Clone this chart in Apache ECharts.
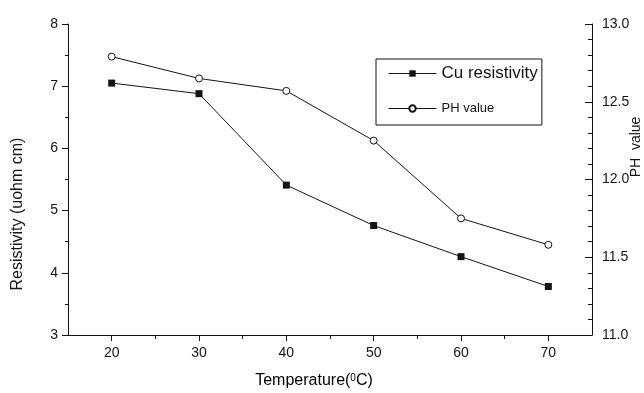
<!DOCTYPE html>
<html>
<head>
<meta charset="utf-8">
<script src="https://cdn.jsdelivr.net/npm/echarts@6/dist/echarts.min.js"></script>
<style>
  html, body { margin: 0; padding: 0; background: #fff; }
  #main { width: 644px; height: 393px; }
</style>
</head>
<body>
<div id="main"></div>
<script>
// temperature (°C)
var temps = [20, 30, 40, 50, 60, 70];
// Cu resistivity (uohm cm), left axis
var cuResistivity = [7.05, 6.88, 5.41, 4.76, 4.26, 3.78];
// PH value, right axis
var phValue = [12.79, 12.65, 12.57, 12.25, 11.75, 11.58];

var xMajor = [20, 30, 40, 50, 60, 70];
var xMinor = [25, 35, 45, 55, 65];

var ink = '#141414';
var font = 'Liberation Sans, Arial, sans-serif';

var chartDom = document.getElementById('main');
var myChart = echarts.init(chartDom);

var option = {
  backgroundColor: '#fff',
  animation: false,
  textStyle: { fontFamily: font, color: ink },
  grid: { left: 68, right: 52, top: 24, bottom: 58 },
  legend: {
    orient: 'vertical',
    left: 376,
    top: 59,
    width: 167,
    padding: [6, 4, 10, 12],
    itemGap: 20,
    itemWidth: 48,
    itemHeight: 8,
    borderColor: ink,
    borderWidth: 1,
    lineStyle: { width: 1 },
    textStyle: { color: ink, fontFamily: font },
    data: [
      { name: 'Cu resistivity', textStyle: { fontSize: 17 } },
      { name: 'PH value', textStyle: { fontSize: 13 } }
    ]
  },
  xAxis: [
    {
      type: 'value',
      min: 15,
      max: 75,
      interval: 5,
      splitLine: { show: false },
      axisLine: { lineStyle: { color: ink, width: 1 } },
      axisTick: { customValues: xMajor, length: 6, lineStyle: { color: ink } },
      axisLabel: { customValues: xMajor, color: ink, fontSize: 14, margin: 11 }
    },
    {
      type: 'value',
      min: 15,
      max: 75,
      interval: 5,
      position: 'bottom',
      splitLine: { show: false },
      axisLine: { show: false },
      axisTick: { customValues: xMinor, length: 4, lineStyle: { color: ink } },
      axisLabel: { show: false }
    }
  ],
  yAxis: [
    {
      type: 'value',
      min: 3,
      max: 8,
      interval: 1,
      position: 'left',
      splitLine: { show: false },
      axisLine: { show: true, lineStyle: { color: ink, width: 1 } },
      axisTick: { show: true, length: 6, lineStyle: { color: ink } },
      minorTick: { show: true, splitNumber: 2, length: 3, lineStyle: { color: ink } },
      axisLabel: { color: ink, fontSize: 14, margin: 10 }
    },
    {
      type: 'value',
      min: 11,
      max: 13,
      interval: 0.5,
      position: 'right',
      splitLine: { show: false },
      axisLine: { show: true, lineStyle: { color: ink, width: 1 } },
      axisTick: { show: true, inside: true, length: 7, lineStyle: { color: ink } },
      minorTick: { show: true, splitNumber: 5, length: 4, lineStyle: { color: ink } },
      axisLabel: {
        color: ink, fontSize: 14, margin: 10,
        formatter: function (v) { return v.toFixed(1); }
      }
    }
  ],
  graphic: [
    {
      type: 'text',
      x: 18, y: 214,
      rotation: Math.PI / 2,
      style: {
        text: 'Resistivity (uohm cm)',
        fontFamily: font, fontSize: 16, fill: ink,
        align: 'center', verticalAlign: 'middle'
      }
    },
    {
      type: 'text',
      x: 636, y: 147,
      rotation: Math.PI / 2,
      style: {
        text: 'PH  value',
        fontFamily: font, fontSize: 14, fill: ink,
        align: 'center', verticalAlign: 'middle'
      }
    },
    {
      type: 'text',
      x: 314, y: 381,
      style: {
        text: '{t|Temperature(}{s|0}{t|C)}',
        rich: {
          t: { fontFamily: font, fontSize: 16, color: ink },
          s: { fontFamily: font, fontSize: 10, color: ink, verticalAlign: 'top', padding: [0, 0, 6, 0] }
        },
        align: 'center', verticalAlign: 'middle'
      }
    }
  ],
  series: [
    {
      name: 'Cu resistivity',
      type: 'line',
      xAxisIndex: 0,
      yAxisIndex: 0,
      data: temps.map(function (t, i) { return [t, cuResistivity[i]]; }),
      symbol: 'rect',
      symbolSize: 7,
      lineStyle: { color: ink, width: 1 },
      itemStyle: { color: ink, borderColor: ink, borderWidth: 0 }
    },
    {
      name: 'PH value',
      type: 'line',
      xAxisIndex: 0,
      yAxisIndex: 1,
      data: temps.map(function (t, i) { return [t, phValue[i]]; }),
      symbol: 'circle',
      symbolSize: 7,
      lineStyle: { color: ink, width: 1 },
      itemStyle: { color: '#fff', borderColor: ink, borderWidth: 1 }
    }
  ]
};

myChart.setOption(option);
</script>
</body>
</html>
